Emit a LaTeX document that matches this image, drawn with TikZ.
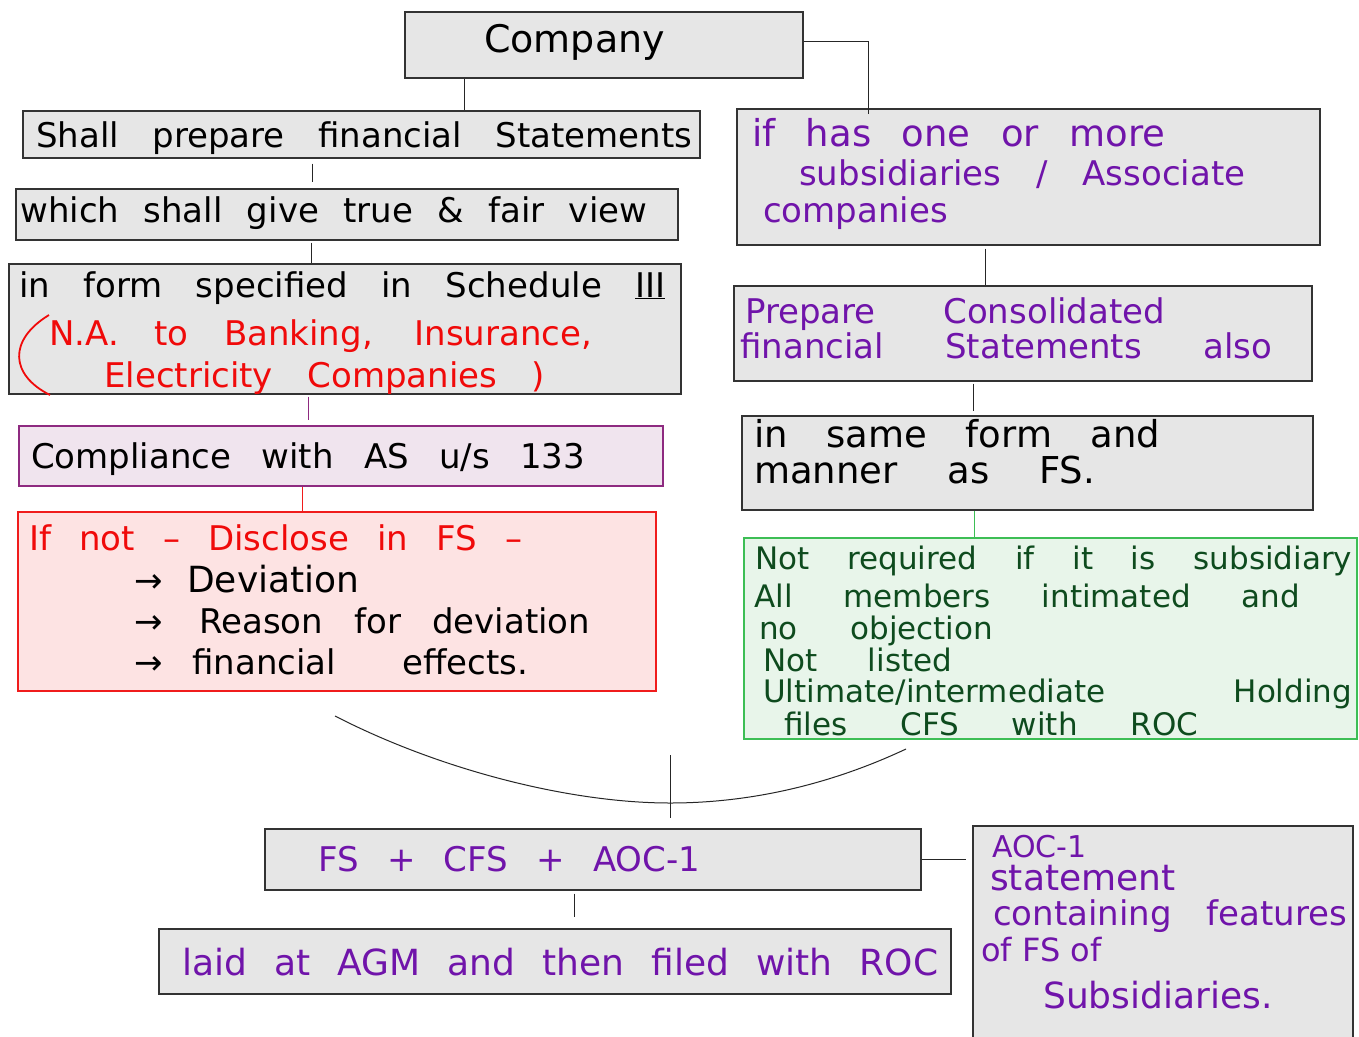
\documentclass[tikz,border=0pt]{standalone}
\usepackage{fontspec}
\setmainfont{DejaVu Sans}
\newfontfamily\arrowfont{DejaVu Sans}
\definecolor{gfill}{HTML}{E6E6E6}
\definecolor{gdraw}{HTML}{333333}
\definecolor{cfill}{HTML}{F0E4EE}
\definecolor{cdraw}{HTML}{8E2A80}
\definecolor{rfill}{HTML}{FDE3E3}
\definecolor{rdraw}{HTML}{F01C1C}
\definecolor{grfill}{HTML}{E8F5EA}
\definecolor{grdraw}{HTML}{3DBE55}
\definecolor{ptxt}{HTML}{7014AA}
\definecolor{rtxt}{HTML}{F00A0A}
\definecolor{gtxt}{HTML}{0E4B1E}
\newcommand{\linew}[2]{\hbox to #1pt{#2}}
\newcommand{\arr}{{\arrowfont →}}
\begin{document}
\begin{tikzpicture}[x=1pt,y=-1pt,
  box/.style={draw=gdraw, fill=gfill, line width=1.4pt, rectangle, inner sep=0pt},
  txt/.style={anchor=base west, inner sep=0pt, font=\fontsize{34}{40}\selectfont},
  gtx/.style={txt, text=gtxt, font=\fontsize{31}{36}\selectfont},
  conn/.style={draw=black!85, line width=1pt}]
\useasboundingbox (0,0) rectangle (1359,1036);
\clip (0,0) rectangle (1359,1036);
\fill[white] (0,0) rectangle (1359,1036);

% ---------- boxes ----------
\node[box, minimum width=398pt, minimum height=66pt] (company) at (604,45) {};
\node[box, minimum width=677pt, minimum height=47pt] (shall) at (361.5,134.5) {};
\node[box, minimum width=662pt, minimum height=51pt] (which) at (347,214.5) {};
\node[box, minimum width=672pt, minimum height=130pt] (inform) at (345,329) {};
\node[box, draw=cdraw, fill=cfill, line width=1.2pt, minimum width=644pt, minimum height=60pt] (compl) at (341,456) {};
\node[box, draw=rdraw, fill=rfill, line width=1.2pt, minimum width=638pt, minimum height=179pt] (ifnot) at (337,601.5) {};
\node[box, minimum width=583pt, minimum height=136pt] (ifhas) at (1028.5,177) {};
\node[box, minimum width=578pt, minimum height=95pt] (prepc) at (1023,333.5) {};
\node[box, minimum width=571pt, minimum height=94pt] (same) at (1027.5,463) {};
\node[box, draw=grdraw, fill=grfill, line width=1.2pt, minimum width=613pt, minimum height=201pt] (green) at (1050.5,638.5) {};
\node[box, minimum width=656pt, minimum height=61pt] (fscfs) at (593,859.5) {};
\node[box, minimum width=792pt, minimum height=65pt] (laid) at (555,961.5) {};
\node[box, minimum width=380pt, minimum height=224pt] (aoc) at (1163,938) {};

% ---------- connectors ----------
\draw[conn] ([xshift=-140pt]company.south) -- ([xshift=-140pt]company.south |- shall.north);
\draw[conn] ([yshift=4pt]company.east) -| ([xshift=-160.5pt, yshift=-6pt]ifhas.north);
\draw[conn, shorten <=5pt, shorten >=6pt] ([xshift=-49.5pt]shall.south) -- ([xshift=-49.5pt]shall.south |- which.north);
\draw[conn, shorten <=2pt] ([xshift=-36pt]which.south) -- ([xshift=-36pt]which.south |- inform.north);
\draw[conn, draw=cdraw, shorten <=2pt, shorten >=5pt] ([xshift=-37pt]inform.south) -- ([xshift=-37pt]inform.south |- compl.north);
\draw[conn, draw=rdraw] ([xshift=-39pt]compl.south) -- ([xshift=-39pt]compl.south |- ifnot.north);
\draw[conn, shorten <=3pt] ([xshift=-43.5pt]ifhas.south) -- ([xshift=-43.5pt]ifhas.south |- prepc.north);
\draw[conn, shorten <=2pt, shorten >=4pt] ([xshift=-50pt]prepc.south) -- ([xshift=-50pt]prepc.south |- same.north);
\draw[conn, draw=grdraw] ([xshift=-53.5pt]same.south) -- ([xshift=-53.5pt]same.south |- green.north);
\draw[conn, shorten <=3pt, shorten >=11pt] ([xshift=-19pt]fscfs.south) -- ([xshift=-19pt]fscfs.south |- laid.north);
\draw[conn, shorten >=6pt] (fscfs.east) -- (fscfs.east -| aoc.west);
\coordinate (cL) at (335,716);
\coordinate (cM) at (670,803);
\coordinate (cR) at (906,749);
\coordinate (vtop) at (670,755);
\draw[conn] (cL) .. controls (440,770) and (570,803) .. (cM) .. controls (760,803) and (840,780) .. (cR);
\draw[conn, shorten >=10pt] (vtop) -- (vtop |- fscfs.north);

% ---------- texts: left column ----------
\node[txt] (tcompany) at (484,52) {\fontsize{38}{44}\selectfont Company};
\node[txt] (tshall) at (36,147) {\linew{656}{Shall prepare financial Statements}};
\node[txt] (twhich) at (20,222) {\linew{627}{which shall give true \& fair view}};
\node[txt] (tform) at (19,297) {\linew{646}{in form specified in Schedule \underline{III}}};
\draw[rtxt, line width=1.8pt] (49,315) .. controls (8,340) and (10,375) .. (50,395);
\node[txt, text=rtxt] (tna) at (49,345) {\linew{543}{N.A. to Banking, Insurance,}};
\node[txt, text=rtxt] (telec) at (104,387) {\linew{441}{Electricity Companies )}};
\node[txt] (tcompl) at (31,468) {\linew{554}{Compliance with AS u/s 133}};
\node[txt, text=rtxt] (tifnot) at (29,550) {\linew{493}{If not -- Disclose in FS --}};
\node[txt] (ta1) at (134,592) {\arr};
\node[txt] (tdev) at (187,592) {\fontsize{36}{40}\selectfont Deviation};
\node[txt] (ta2) at (134,633) {\arr};
\node[txt] (treason) at (199,633) {\linew{391}{Reason for deviation}};
\node[txt] (ta3) at (134,674) {\arr};
\node[txt] (teffects) at (192,674) {\linew{336}{financial effects.}};

% ---------- texts: right column ----------
\node[txt, text=ptxt] (th1) at (752,146) {\fontsize{37}{40}\selectfont\linew{413}{if has one or more}};
\node[txt, text=ptxt] (th2) at (799,185) {\linew{446}{subsidiaries / Associate}};
\node[txt, text=ptxt] (th3) at (763,222) {companies};
\node[txt, text=ptxt] (tp1) at (745,323) {\linew{420}{Prepare Consolidated}};
\node[txt, text=ptxt] (tp2) at (740,358) {\linew{532}{financial Statements also}};
\node[txt] (ts1) at (754,447) {\fontsize{37}{40}\selectfont\linew{406}{in same form and}};
\node[txt] (ts2) at (754,483) {\fontsize{37}{40}\selectfont\linew{341}{manner as FS.}};
\node[gtx] (tg1) at (755,569) {\linew{597}{Not required if it is subsidiary}};
\node[gtx] (tg2) at (754,607) {\linew{546}{All members intimated and}};
\node[gtx] (tg3) at (759,639) {\linew{234}{no objection}};
\node[gtx] (tg4) at (763,671) {\linew{189}{Not listed}};
\node[gtx] (tg5) at (763,702) {\linew{589}{Ultimate/intermediate Holding}};
\node[gtx] (tg6) at (784,735) {\linew{414}{files CFS with ROC}};

% ---------- texts: bottom ----------
\node[txt, text=ptxt] (tfs) at (318,871) {\linew{382}{FS + CFS + AOC-1}};
\node[txt, text=ptxt] (tlaid) at (182,975) {\fontsize{36}{40}\selectfont\linew{756}{laid at AGM and then filed with ROC}};
\node[txt, text=ptxt] (taoc1) at (992,857) {\fontsize{30}{34}\selectfont AOC-1};
\node[txt, text=ptxt] (taoc2) at (990,890) {\fontsize{36}{40}\selectfont statement};
\node[txt, text=ptxt] (taoc3) at (993,925) {\linew{354}{containing features}};
\node[txt, text=ptxt] (taoc4) at (981,961) {\fontsize{32}{36}\selectfont of FS of};
\node[txt, text=ptxt] (taoc5) at (1043,1008) {\fontsize{36}{40}\selectfont Subsidiaries.};
\end{tikzpicture}
\end{document}
